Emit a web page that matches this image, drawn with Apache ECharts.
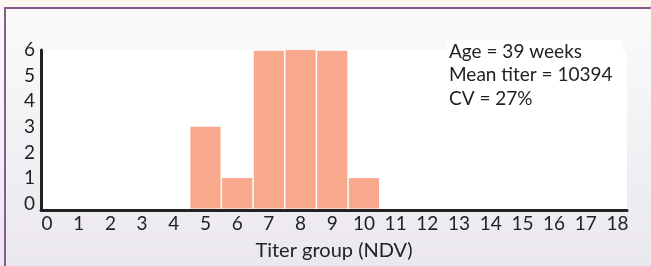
<!DOCTYPE html>
<html>
<head>
<meta charset="utf-8">
<script src="https://cdn.jsdelivr.net/npm/echarts@6/dist/echarts.min.js"></script>
<style>
  html, body { margin: 0; padding: 0; }
  body { width: 651px; height: 266px; overflow: hidden; position: relative;
         background: linear-gradient(#fbfbfb, #ebe7ee); }
  .strip { position: absolute; left: 0; top: 0; width: 651px; height: 7px; background: #fdf8ee; }
  .topline { position: absolute; left: 4px; top: 7px; width: 647px; height: 2px; background: #8b5a8e; }
  .leftline { position: absolute; left: 4px; top: 7px; width: 2px; height: 259px; background: #8b5a8e; }
  #main { position: absolute; left: 0; top: 0; width: 651px; height: 266px; }
</style>
</head>
<body>
<div class="strip"></div>
<div class="topline"></div>
<div class="leftline"></div>
<div id="main"></div>
<script>
// 数据
var titerGroups = [5, 6, 7, 8, 9, 10]
var counts = [3, 1, 5.97, 6, 5.97, 1]
var xTicks = [0, 1, 2, 3, 4, 5, 6, 7, 8, 9, 10, 11, 12, 13, 14, 15, 16, 17, 18]
var yTicks = [0, 1, 2, 3, 4, 5, 6]
var infoLines = ['Age = 39 weeks', 'Mean titer = 10394', 'CV = 27%']

var yMin = -0.25
var font = 'Lato, "DejaVu Sans", sans-serif'

var chart = echarts.init(document.getElementById('main'), null, { renderer: 'canvas' })

var option = {
  backgroundColor: 'transparent',
  animation: false,
  grid: {
    left: 41,
    right: 24,
    top: 50,
    bottom: 56,
    show: true,
    backgroundColor: '#fff',
    borderWidth: 0
  },
  xAxis: {
    type: 'value',
    min: -0.19,
    max: 18.3,
    splitLine: { show: false },
    axisTick: { show: false },
    axisLine: { show: true, onZero: false, lineStyle: { color: '#222', width: 3 } },
    axisLabel: {
      customValues: xTicks,
      color: '#222',
      fontSize: 19,
      fontFamily: font,
      margin: 4
    },
    name: 'Titer group (NDV)',
    nameLocation: 'middle',
    nameGap: 31,
    nameTextStyle: { color: '#222', fontSize: 20, fontFamily: font }
  },
  yAxis: {
    type: 'value',
    min: yMin,
    max: 6,
    splitLine: { show: false },
    axisTick: { show: false },
    axisLine: { show: true, onZero: false, lineStyle: { color: '#222', width: 3 } },
    axisLabel: {
      customValues: yTicks,
      color: '#222',
      fontSize: 19,
      fontFamily: font,
      margin: 6
    }
  },
  graphic: [
    {
      type: 'rect',
      left: 447,
      top: 40,
      shape: { width: 175, height: 70 },
      style: { fill: '#fff' },
      z: 0
    },
    {
      type: 'text',
      left: 449,
      top: 40,
      style: {
        text: infoLines.join('\n'),
        fill: '#222',
        fontSize: 19,
        fontFamily: font,
        lineHeight: 23.5
      },
      z: 10
    }
  ],
  series: [
    {
      type: 'custom',
      data: titerGroups.map(function(g, i) { return [g, counts[i]] }),
      encode: { x: 0, y: 1 },
      renderItem: function(params, api) {
        var top = api.coord([api.value(0), api.value(1)])
        var bottom = api.coord([api.value(0), yMin])
        var w = api.size([1, 0])[0] - 1.5
        return {
          type: 'rect',
          shape: { x: top[0] - w / 2, y: top[1], width: w, height: bottom[1] - top[1] - 1.5 },
          style: { fill: '#f8a98b' }
        }
      }
    }
  ]
}

chart.setOption(option)
</script>
</body>
</html>
